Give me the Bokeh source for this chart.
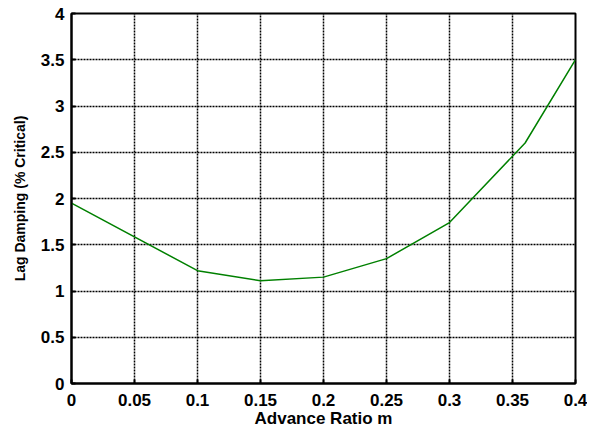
from bokeh.plotting import figure
from bokeh.models import FixedTicker, Range1d
from bokeh.embed import file_html
from bokeh.resources import INLINE

# Data
advance_ratio = [0.0, 0.1, 0.15, 0.2, 0.25, 0.3, 0.36, 0.4]
lag_damping = [1.95, 1.22, 1.11, 1.15, 1.35, 1.74, 2.6, 3.5]

x_ticks = [0, 0.05, 0.1, 0.15, 0.2, 0.25, 0.3, 0.35, 0.4]
x_tick_labels = ["0", "0.05", "0.1", "0.15", "0.2", "0.25", "0.3", "0.35", "0.4"]
y_ticks = [0, 0.5, 1, 1.5, 2, 2.5, 3, 3.5, 4]
y_tick_labels = ["0", "0.5", "1", "1.5", "2", "2.5", "3", "3.5", "4"]
x_title = "Advance Ratio m"
y_title = "Lag Damping (% Critical)"

FONT = "Liberation Sans"

p = figure(width=587, height=431, output_backend="svg", toolbar_location=None,
           x_range=Range1d(0, 0.4), y_range=Range1d(0, 4),
           min_border_left=71, min_border_right=12, min_border_top=13, min_border_bottom=48)
p.background_fill_color = "white"
p.border_fill_color = "white"
p.outline_line_color = "black"
p.outline_line_width = 2
p.outline_line_alpha = 1

p.line(advance_ratio, lag_damping, line_color="#008000", line_width=1.5)

p.xaxis.ticker = FixedTicker(ticks=x_ticks)
p.yaxis.ticker = FixedTicker(ticks=y_ticks)
p.xaxis.major_label_overrides = {t: l for t, l in zip(x_ticks, x_tick_labels)}
p.yaxis.major_label_overrides = {t: l for t, l in zip(y_ticks, y_tick_labels)}

for ax in (p.xaxis[0], p.yaxis[0]):
    ax.axis_line_color = "black"
    ax.axis_line_width = 2
    ax.major_tick_line_color = "black"
    ax.major_tick_line_width = 2
    ax.major_tick_in = 4
    ax.major_tick_out = 0
    ax.minor_tick_line_color = None
    ax.major_label_text_font = FONT
    ax.major_label_text_font_style = "bold"
    ax.major_label_text_color = "black"
    ax.axis_label_text_font = FONT
    ax.axis_label_text_font_style = "bold"
    ax.axis_label_text_color = "black"

p.xaxis.major_label_text_font_size = "17px"
p.yaxis.major_label_text_font_size = "17px"
p.xaxis.major_label_standoff = 10
p.yaxis.major_label_standoff = 7
p.xaxis.axis_label = x_title
p.yaxis.axis_label = y_title
p.xaxis.axis_label_text_font_size = "17px"
p.yaxis.axis_label_text_font_size = "14px"
p.xaxis.axis_label_standoff = 0
p.yaxis.axis_label_standoff = 10

p.xgrid.grid_line_color = "black"
p.ygrid.grid_line_color = "black"
p.xgrid.grid_line_width = 1.5
p.ygrid.grid_line_width = 1.5
p.xgrid.grid_line_dash = "2 1"
p.ygrid.grid_line_dash = "2 1"
p.xgrid.grid_line_alpha = 1
p.ygrid.grid_line_alpha = 1

open("out.html", "w").write(file_html(p, INLINE))
